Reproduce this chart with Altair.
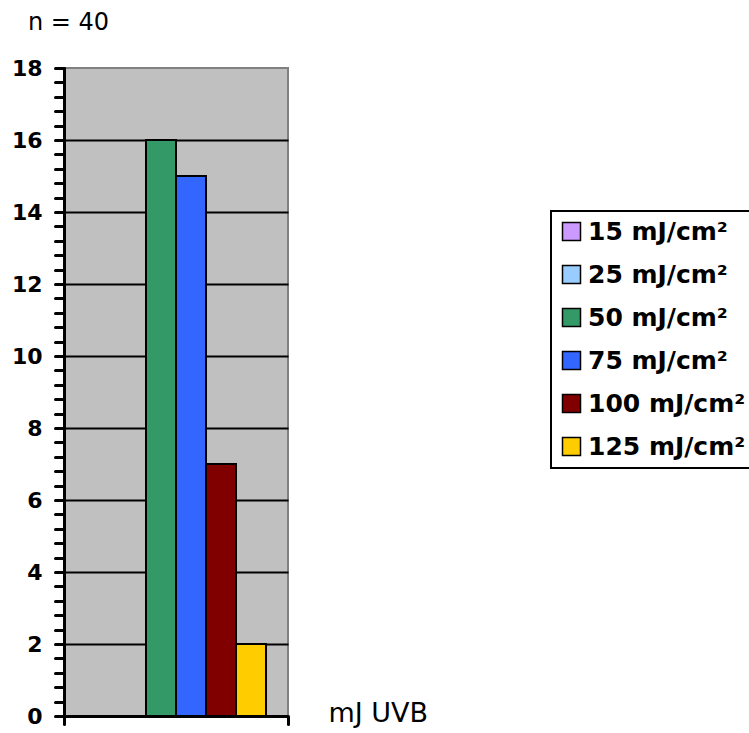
import altair as alt
import pandas as pd

doses = ["15 mJ/cm²", "25 mJ/cm²", "50 mJ/cm²", "75 mJ/cm²", "100 mJ/cm²", "125 mJ/cm²"]
counts = [0, 0, 16, 15, 7, 2]
colors = ["#CC99FF", "#99CCFF", "#339966", "#3366FF", "#800000", "#FFCC00"]
y_ticks = [round(i * 0.4, 1) for i in range(46)]

df = pd.DataFrame({"group": [""] * len(doses), "dose": doses, "count": counts})

FONT = "DejaVu Sans"

bars = alt.Chart(df).mark_bar(stroke="black", strokeWidth=2).encode(
    x=alt.X("group:N", title="mJ UVB",
            scale=alt.Scale(paddingInner=0, paddingOuter=0),
            axis=alt.Axis(labels=False, tickBand="extent", domainColor="black",
                          domainWidth=3, tickColor="black", tickWidth=3, tickSize=8,
                          tickCap="round", titleX=264, titleY=-3, titleAlign="left",
                          titleBaseline="middle", titleFont=FONT, titleFontSize=27,
                          titleFontWeight="normal", titleColor="black", titleAnchor="start")),
    xOffset=alt.XOffset("dose:N", sort=doses,
                        scale=alt.Scale(paddingInner=0, paddingOuter=0.733)),
    y=alt.Y("count:Q", title=None,
            scale=alt.Scale(domain=[0, 18], nice=False, zero=True),
            axis=alt.Axis(values=y_ticks, tickCount=100, grid=True, gridColor="black", gridWidth=1.8,
                          gridOpacity={"condition": {"test": "datum.value % 2 === 0 && datum.value < 18", "value": 1}, "value": 0},
                          labelExpr="datum.value % 2 === 0 ? format(datum.value, 'd') : ''",
                          labelOverlap=False, labelFont=FONT, labelFontSize=22,
                          labelFontWeight="bold", labelColor="black", labelPadding=13,
                          domainColor="black", domainWidth=3, tickColor="black",
                          tickWidth=3, tickSize=9, tickCap="round", domainCap="round")),
    color=alt.Color("dose:N", sort=doses,
                    scale=alt.Scale(domain=doses, range=colors),
                    legend=alt.Legend(title=None, orient="none", legendX=487, legendY=143,
                                      symbolType="square", symbolSize=324,
                                      symbolStrokeColor="black", symbolStrokeWidth=1.5,
                                      symbolOpacity=1, labelOffset=4,
                                      labelFont=FONT, labelFontSize=25, labelFontWeight="bold",
                                      labelColor="black", labelLimit=400, rowPadding=17,
                                      strokeColor="black", fillColor="white",
                                      padding=8)),
).properties(
    width=224, height=648,
    title=alt.TitleParams("n = 40", anchor="start", frame="group", dx=-36, dy=12, offset=15,
                          baseline="alphabetic",
                          font=FONT, fontSize=24, fontWeight="normal", color="black"),
    autosize=alt.AutoSizeParams(type="none"),
    padding={"left": 64, "top": 68, "right": 461, "bottom": 17},
    background="white",
).configure_view(
    fill="#C0C0C0", stroke="#808080", strokeWidth=2
).configure_legend(
    strokeWidth=2
)

chart = bars
chart.save("out.html", embed_options={"renderer": "svg", "actions": False})
